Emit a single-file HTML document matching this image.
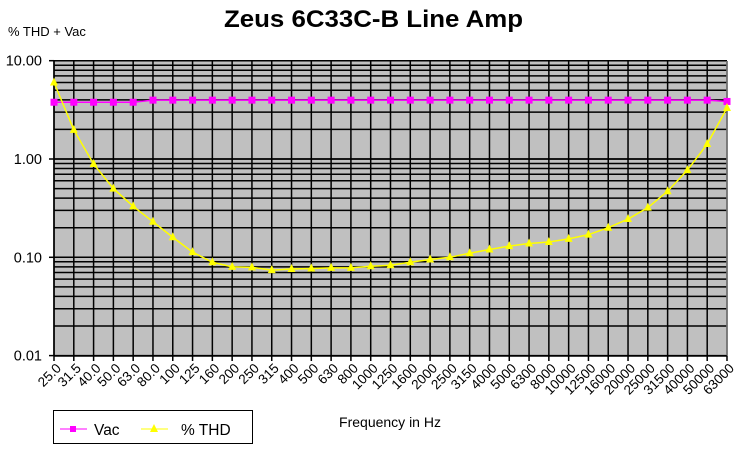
<!DOCTYPE html>
<html><head><meta charset="utf-8"><style>
body{margin:0;background:#fff;}
svg{display:block;font-family:"Liberation Sans",Arial,sans-serif;}
</style></head><body>
<svg id="s" width="741" height="452" xmlns="http://www.w3.org/2000/svg">
<rect width="741" height="452" fill="#fff"/>
<text x="224" y="27" font-size="24" font-weight="bold" textLength="299" lengthAdjust="spacingAndGlyphs">Zeus 6C33C-B Line Amp</text>
<text x="8" y="36" font-size="13">% THD + Vac</text>
<rect x="54" y="61" width="673" height="295" fill="#c0c0c0"/>
<g id="grid" stroke="#000" stroke-width="1.5"></g>
<g id="lab" font-size="13.5"></g>
<text x="390" y="427" font-size="14" text-anchor="middle">Frequency in Hz</text>
<rect x="53.5" y="410.5" width="199" height="33" fill="#fff" stroke="#000"/>
<line x1="60" y1="429" x2="87" y2="429" stroke="#f0f"/><rect x="70" y="426" width="6" height="6" fill="#f0f"/>
<text x="94" y="435" font-size="15.5">Vac</text>
<line x1="141" y1="429" x2="168" y2="429" stroke="#ff0"/><polygon points="154,424 150,432 158,432" fill="#ff0"/>
<text x="181" y="435" font-size="15.5">% THD</text>
<g id="ser"></g>
</svg>
<script>
var ns="http://www.w3.org/2000/svg";
function el(p,t,a,txt){var e=document.createElementNS(ns,t);for(var k in a)e.setAttribute(k,a[k]);if(txt)e.textContent=txt;document.getElementById(p).appendChild(e);return e;}
var L=54,R=727,T=61,B=356,D=98.3;
function Y(v){return 159-Math.log10(v)*D;}
var cats=["25.0","31.5","40.0","50.0","63.0","80.0","100","125","160","200","250","315","400","500","630","800","1000","1250","1600","2000","2500","3150","4000","5000","6300","8000","10000","12500","16000","20000","25000","31500","40000","50000","63000"];
var n=cats.length,st=(R-L)/(n-1);
function X(i){return L+i*st;}
for(var d=-2;d<1;d++)for(var m=1;m<=10;m++){var y=Y(m*Math.pow(10,d));el("grid","line",{x1:L,x2:R,y1:y,y2:y});}
for(var i=0;i<n;i++){el("grid","line",{x1:X(i),x2:X(i),y1:T,y2:B+5});
var x=X(i)+8,y=369;el("lab","text",{x:x,y:y,"text-anchor":"end",transform:"rotate(-45 "+x+" "+y+")"},cats[i]);}
el("grid","line",{x1:R,x2:R,y1:T,y2:B,stroke:"#808080"});
el("grid","line",{x1:L,x2:L,y1:T,y2:B});el("grid","line",{x1:L,x2:R,y1:B,y2:B});
[["10.00",10],["1.00",1],["0.10",0.1],["0.01",0.01]].forEach(function(a){var y=Y(a[1]);el("lab","text",{x:42,y:y+5,"text-anchor":"end","font-size":14.5},a[0]);el("grid","line",{x1:L-5,x2:L,y1:y,y2:y});});
var vac=[],thd=[6.0,1.98,0.89,0.5,0.33,0.23,0.16,0.113,0.089,0.08,0.079,0.074,0.076,0.077,0.078,0.078,0.081,0.083,0.089,0.095,0.1,0.11,0.12,0.13,0.138,0.143,0.154,0.17,0.2,0.245,0.32,0.47,0.77,1.42,3.3];
for(var i=0;i<n;i++)vac.push(i<5?3.78:(i==n-1?3.85:3.97));
var pv=vac.map(function(v,i){return X(i)+","+Y(v)}).join(" ");
var pt=thd.map(function(v,i){return X(i)+","+Y(v)}).join(" ");
el("ser","polyline",{points:pv,fill:"none",stroke:"#f0f","stroke-width":1.5});
el("ser","polyline",{points:pt,fill:"none",stroke:"#ff0","stroke-width":1.5});
for(var i=0;i<n;i++){var x=X(i),y=Y(vac[i]);el("ser","rect",{x:x-3.5,y:y-3.5,width:7,height:7,fill:"#f0f"});
y=Y(thd[i]);el("ser","polygon",{points:x+","+(y-5)+" "+(x-4)+","+(y+3)+" "+(x+4)+","+(y+3),fill:"#ff0"});}
</script>
</body></html>
